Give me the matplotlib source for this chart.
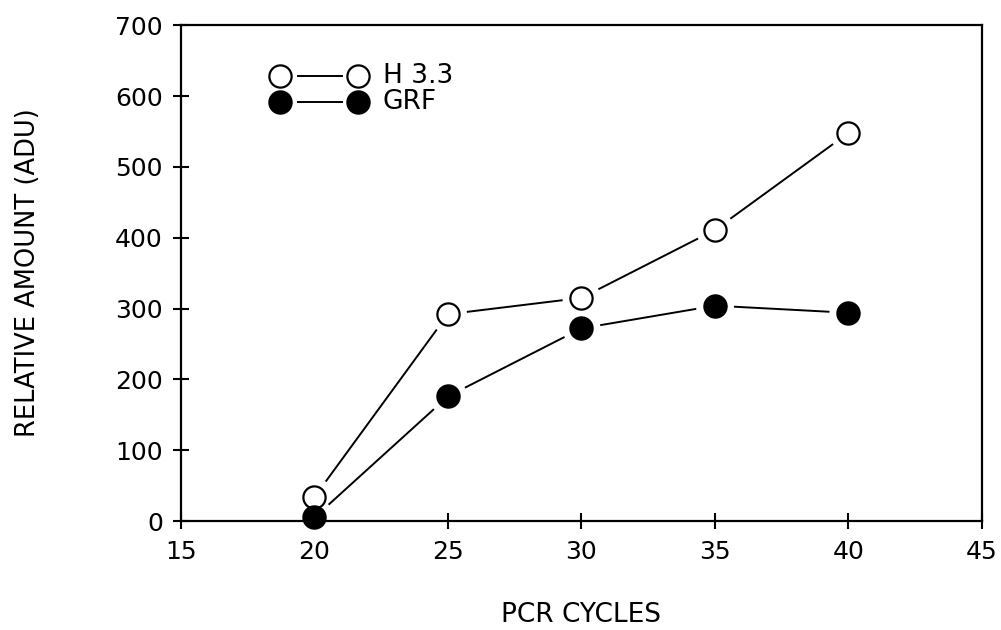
import matplotlib
matplotlib.use("Agg")
import matplotlib.pyplot as plt
import numpy as np

# PCR cycle series
cycles = [20, 25, 30, 35, 40]
h33 = [34, 292, 315, 411, 548]
grf = [5, 176, 272, 304, 294]

xticks = [15, 20, 25, 30, 35, 40, 45]
yticks = [0, 100, 200, 300, 400, 500, 600, 700]

plt.rcParams["font.family"] = ["DejaVu Sans"]

fig = plt.figure(figsize=(10.01, 6.30), dpi=100)
ax = fig.add_axes([0.1808, 0.173, 0.8002, 0.787])
ax.set_xlim(15, 45)
ax.set_ylim(0, 700)
ax.set_xticks(xticks)
ax.set_yticks(yticks)
ax.tick_params(axis="both", direction="inout", length=12, width=1.5,
               labelsize=18, colors="black")
ax.tick_params(axis="x", pad=8)
ax.tick_params(axis="y", pad=7)
for sp in ax.spines.values():
    sp.set_linewidth(1.6)

ax.set_xlabel("PCR CYCLES", fontsize=19)
ax.set_ylabel("RELATIVE AMOUNT (ADU)", fontsize=18.5)
ax.xaxis.set_label_coords(0.5, -0.163)
ax.yaxis.set_label_coords(-0.175, 0.5)

MS = 16
GAP = 19  # px between marker centre and the start of a connecting segment


def gapped_line(ax, xs, ys, gap):
    pts = ax.transData.transform(np.column_stack([xs, ys]))
    inv = ax.transData.inverted()
    for p, q in zip(pts[:-1], pts[1:]):
        d = q - p
        n = np.hypot(*d)
        if n <= 2 * gap:
            continue
        u = d / n
        a, b = inv.transform([p + u * gap, q - u * gap])
        ax.plot([a[0], b[0]], [a[1], b[1]], color="black", lw=1.4,
                solid_capstyle="butt", zorder=2)


gapped_line(ax, cycles, h33, GAP)
gapped_line(ax, cycles, grf, GAP)
ax.plot(cycles, h33, "o", ms=MS, mfc="white", mec="black", mew=1.6,
        zorder=3, clip_on=False)
ax.plot(cycles, grf, "o", ms=MS, mfc="black", mec="black", mew=1.6,
        zorder=4, clip_on=False)

# hand-drawn key: marker - line - marker, label
key = [("H 3.3", "white"), ("GRF", "black")]
for i, (lab, fc) in enumerate(key):
    y = 0.897 - i * 0.052
    ax.plot([0.1236, 0.221], [y, y], "o", ms=MS, mfc=fc, mec="black", mew=1.6,
            transform=ax.transAxes, clip_on=False)
    ax.plot([0.146, 0.201], [y, y], color="black", lw=1.4,
            transform=ax.transAxes)
    ax.text(0.252, y, lab, transform=ax.transAxes, fontsize=19,
            va="center", ha="left")

fig.savefig("out.png", dpi=100)
